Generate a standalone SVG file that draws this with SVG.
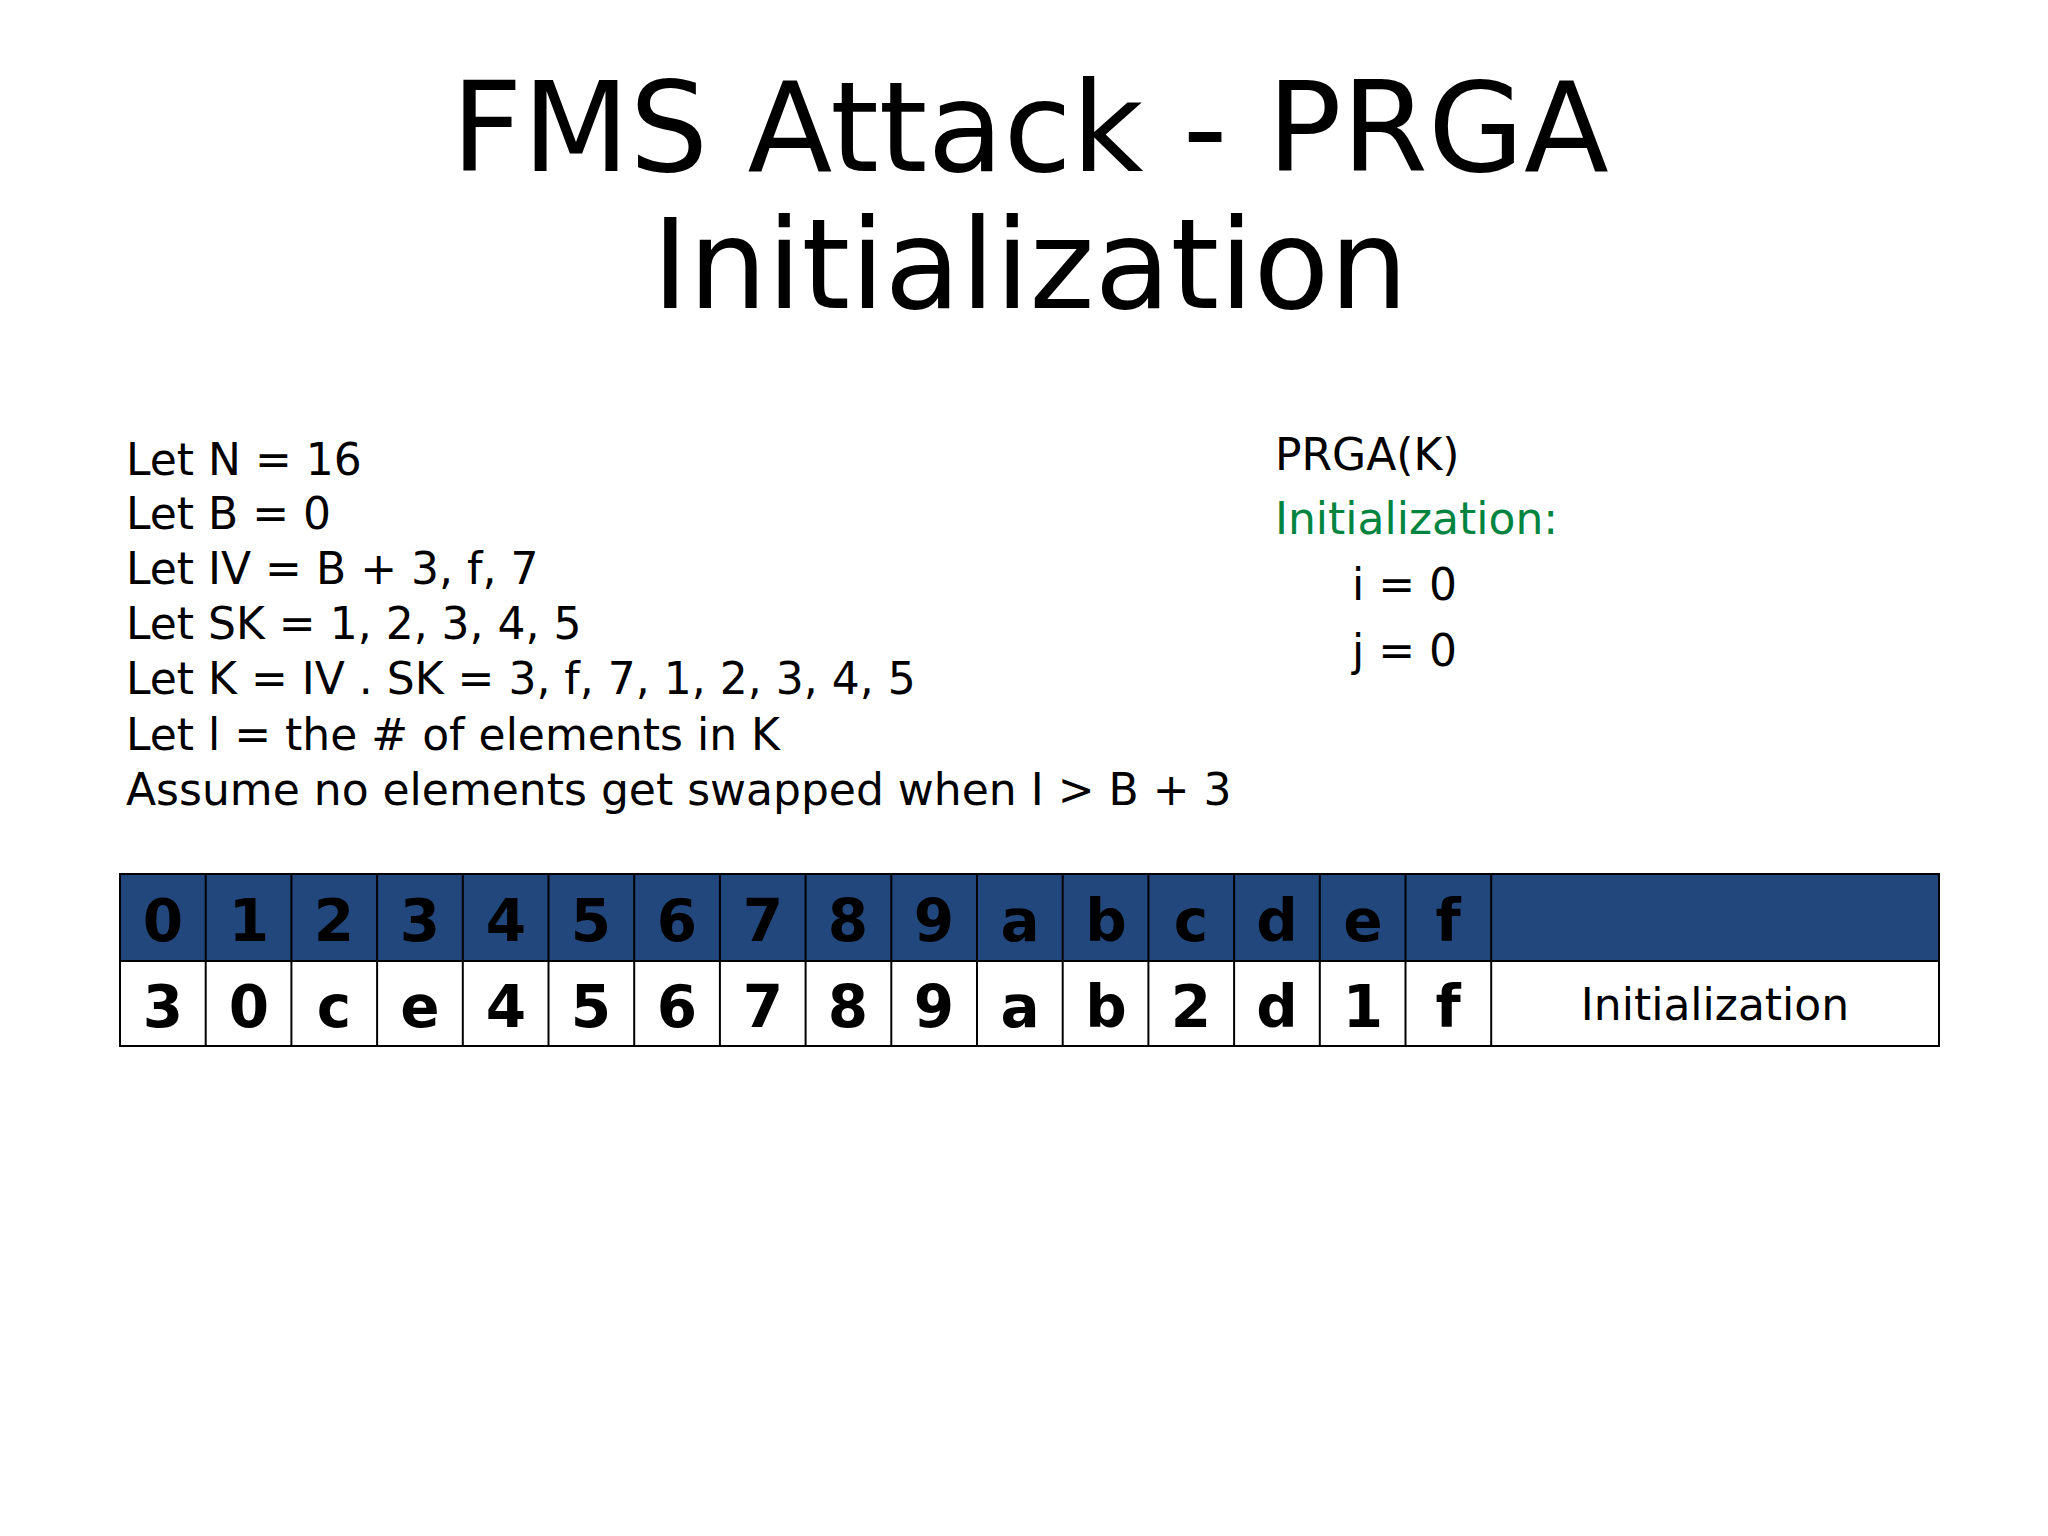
<svg xmlns="http://www.w3.org/2000/svg" width="2048" height="1536" viewBox="0 0 2048 1536">
<style>
text{font-family:"DejaVu Sans",Verdana,sans-serif;fill:#000}
.t{font-size:124px;text-anchor:middle}
.b{font-size:44px}
.c{font-size:58px;font-weight:bold;text-anchor:middle}
.h{fill:#21477c;stroke:#000;stroke-width:2}
.w{fill:#fff;stroke:#000;stroke-width:2}
</style>
<rect width="2048" height="1536" fill="#fff"/>
<g id="title">
<text class="t" x="1030" y="171">FMS Attack - PRGA</text>
<text class="t" x="1030" y="308">Initialization</text>
</g>
<g id="defs-text" class="b">
<text class="b" x="126" y="475">Let N = 16</text>
<text class="b" x="126" y="529">Let B = 0</text>
<text class="b" x="126" y="584">Let IV = B + 3, f, 7</text>
<text class="b" x="126" y="639">Let SK = 1, 2, 3, 4, 5</text>
<text class="b" x="126" y="694">Let K = IV . SK = 3, f, 7, 1, 2, 3, 4, 5</text>
<text class="b" x="126" y="750">Let l = the # of elements in K</text>
<text class="b" x="126" y="805">Assume no elements get swapped when I &gt; B + 3</text>
</g>
<g id="prga">
<text class="b" x="1275" y="470">PRGA(K)</text>
<text class="b" x="1275" y="534" style="fill:#00843f">Initialization:</text>
<text class="b" x="1352" y="600">i = 0</text>
<text class="b" x="1352" y="666">j = 0</text>
</g>
<g id="table">
<rect class="h" x="120" y="874" width="1819" height="87"/>
<rect class="w" x="120" y="961" width="1819" height="85"/>
<g stroke="#000" stroke-width="2">
<line x1="205.7" y1="874" x2="205.7" y2="1046"/><line x1="291.4" y1="874" x2="291.4" y2="1046"/>
<line x1="377.1" y1="874" x2="377.1" y2="1046"/><line x1="462.8" y1="874" x2="462.8" y2="1046"/>
<line x1="548.5" y1="874" x2="548.5" y2="1046"/><line x1="634.2" y1="874" x2="634.2" y2="1046"/>
<line x1="719.9" y1="874" x2="719.9" y2="1046"/><line x1="805.6" y1="874" x2="805.6" y2="1046"/>
<line x1="891.3" y1="874" x2="891.3" y2="1046"/><line x1="977" y1="874" x2="977" y2="1046"/>
<line x1="1062.7" y1="874" x2="1062.7" y2="1046"/><line x1="1148.4" y1="874" x2="1148.4" y2="1046"/>
<line x1="1234.1" y1="874" x2="1234.1" y2="1046"/><line x1="1319.8" y1="874" x2="1319.8" y2="1046"/>
<line x1="1405.5" y1="874" x2="1405.5" y2="1046"/><line x1="1491.2" y1="874" x2="1491.2" y2="1046"/>
</g>
<g>
<text class="c" x="163" y="941">0</text><text class="c" x="249" y="941">1</text><text class="c" x="334" y="941">2</text><text class="c" x="420" y="941">3</text>
<text class="c" x="506" y="941">4</text><text class="c" x="591" y="941">5</text><text class="c" x="677" y="941">6</text><text class="c" x="763" y="941">7</text>
<text class="c" x="848" y="941">8</text><text class="c" x="934" y="941">9</text><text class="c" x="1020" y="941">a</text><text class="c" x="1106" y="941">b</text>
<text class="c" x="1191" y="941">c</text><text class="c" x="1277" y="941">d</text><text class="c" x="1363" y="941">e</text><text class="c" x="1448" y="941">f</text>
</g>
<g>
<text class="c" x="163" y="1027">3</text><text class="c" x="249" y="1027">0</text><text class="c" x="334" y="1027">c</text><text class="c" x="420" y="1027">e</text>
<text class="c" x="506" y="1027">4</text><text class="c" x="591" y="1027">5</text><text class="c" x="677" y="1027">6</text><text class="c" x="763" y="1027">7</text>
<text class="c" x="848" y="1027">8</text><text class="c" x="934" y="1027">9</text><text class="c" x="1020" y="1027">a</text><text class="c" x="1106" y="1027">b</text>
<text class="c" x="1191" y="1027">2</text><text class="c" x="1277" y="1027">d</text><text class="c" x="1363" y="1027">1</text><text class="c" x="1448" y="1027">f</text>
</g>
<text class="b" x="1715" y="1020" text-anchor="middle">Initialization</text>
</g>
</svg>
